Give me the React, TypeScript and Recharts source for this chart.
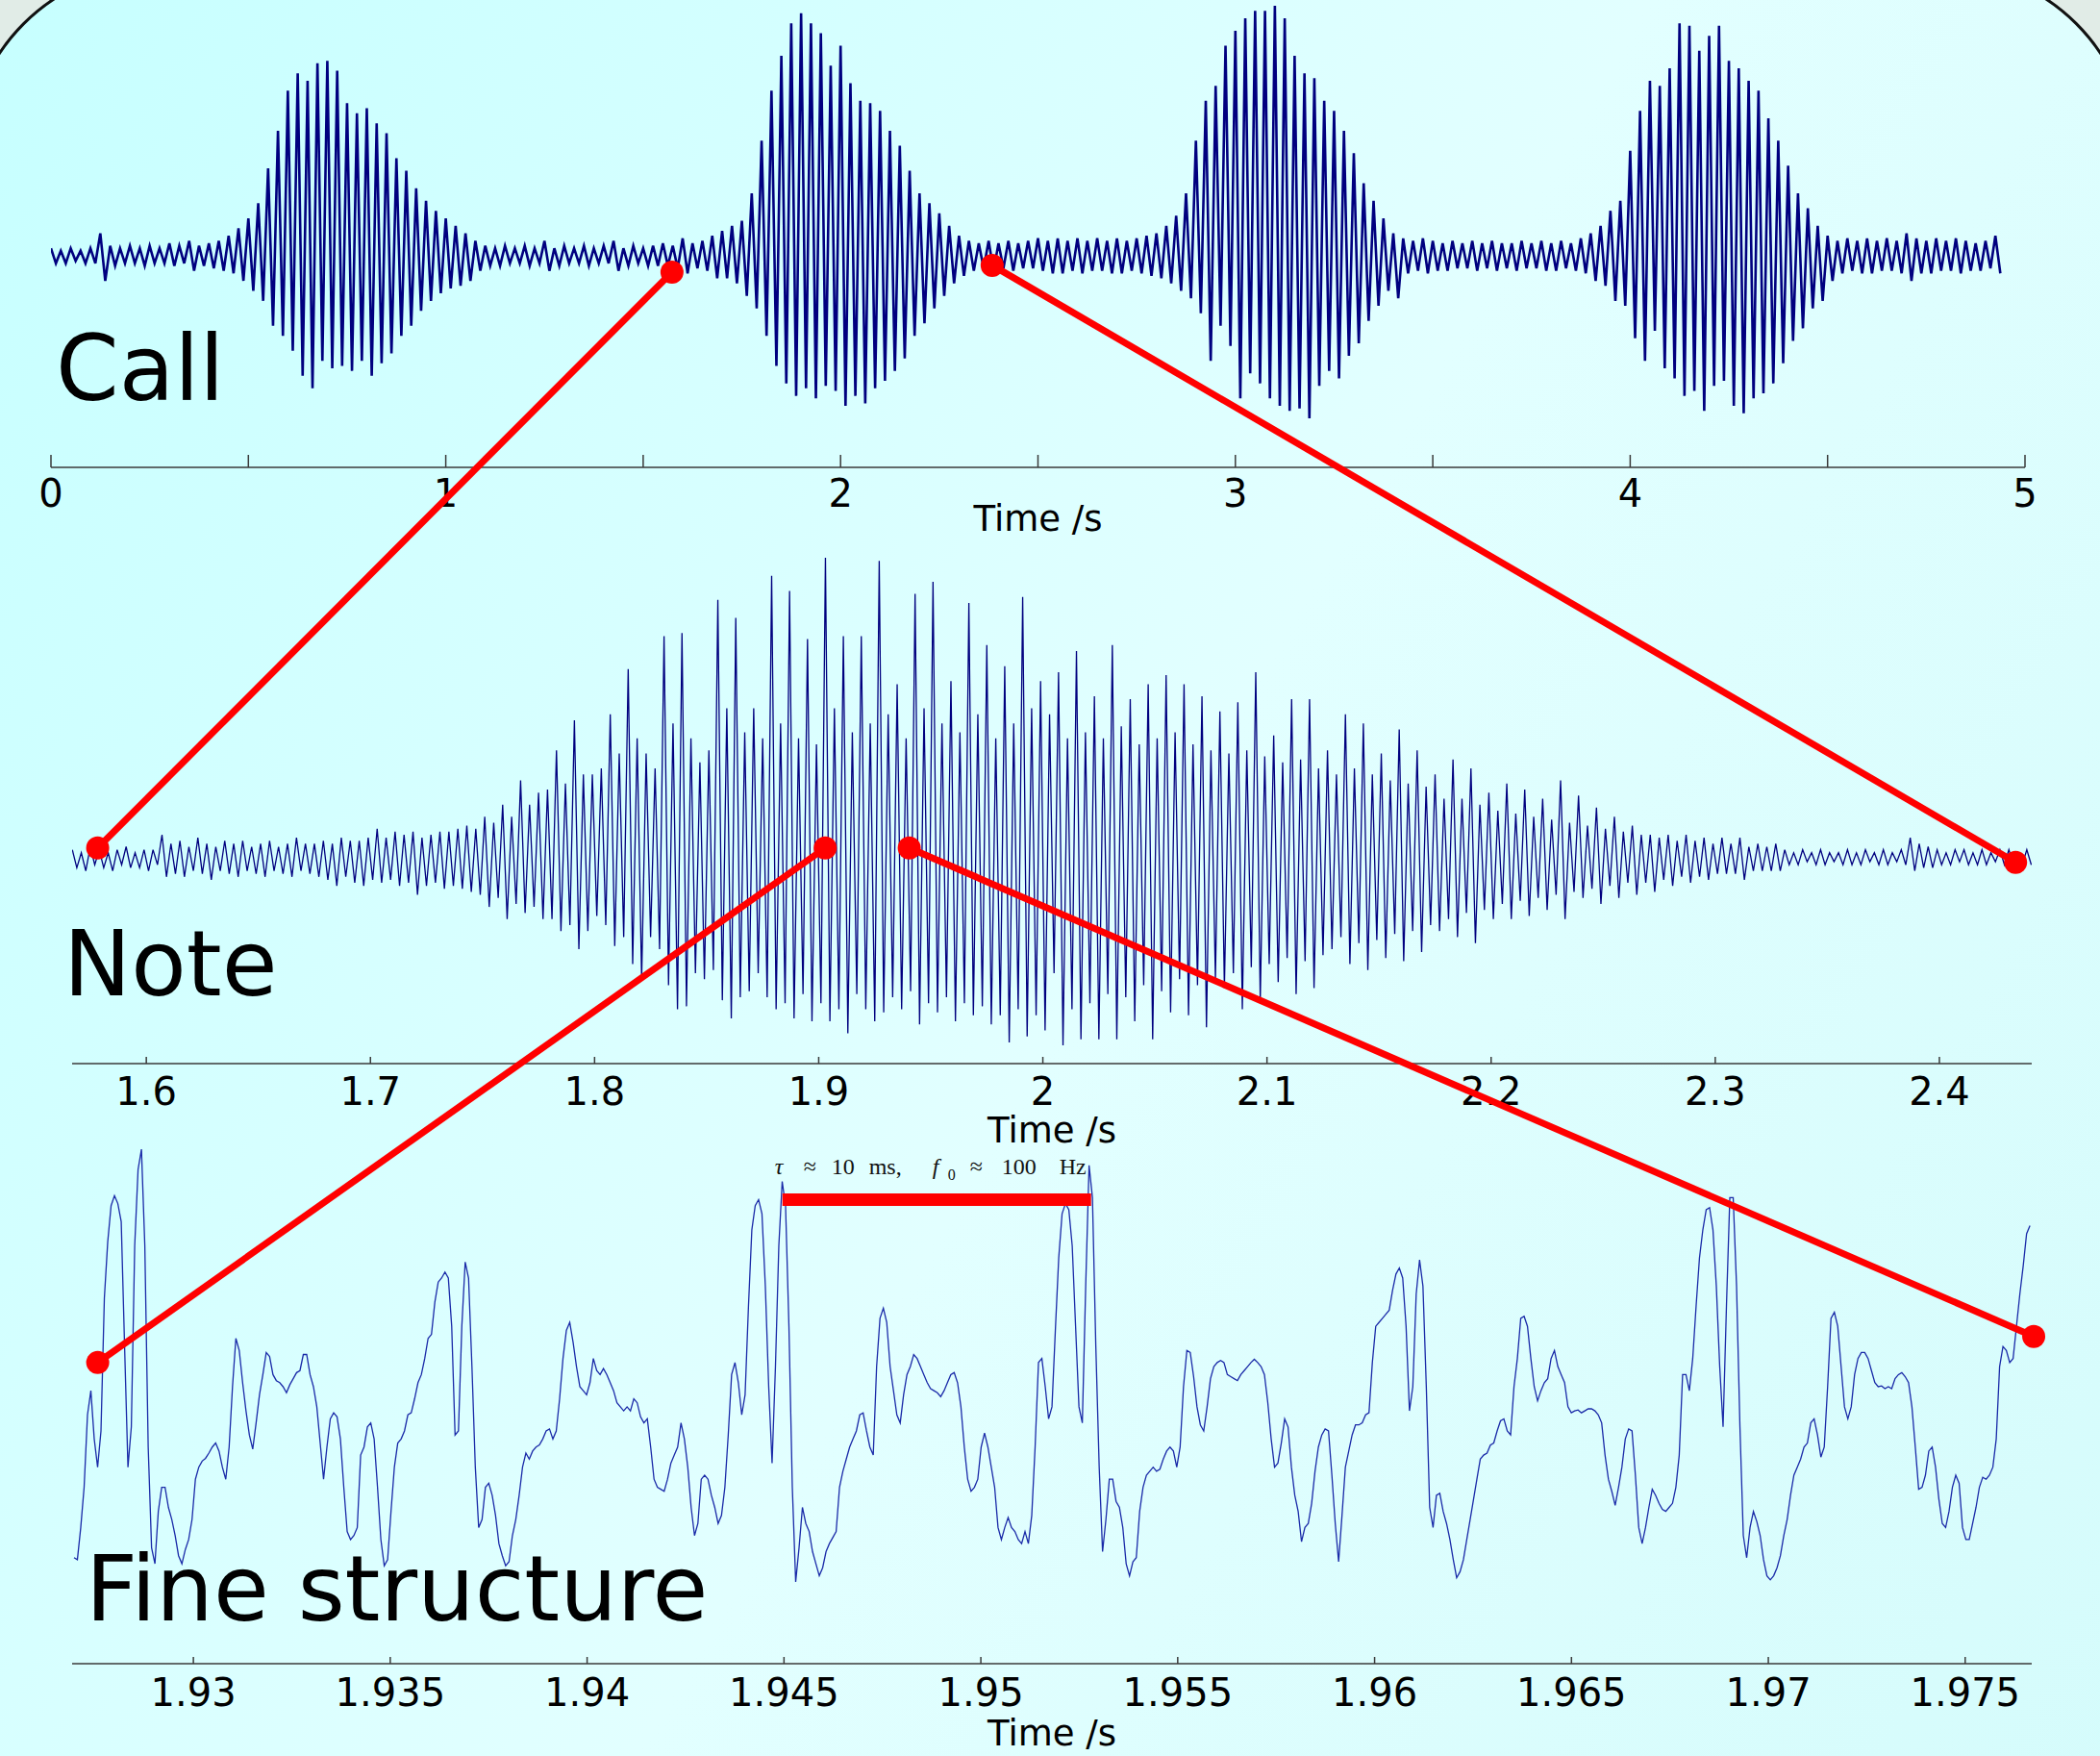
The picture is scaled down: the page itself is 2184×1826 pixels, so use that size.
import { LineChart, Line, XAxis, YAxis, ReferenceLine } from "recharts";

// ---- data ----

// call: min/max envelope per 25 ms bin, % of the largest peak
const CALL_T0 = 0;
const CALL_DT = 0.025;
const CALL_MAX = [
  3, 2, 3, 2, 3, 9, 4, 3, 4, 3, 4, 3, 5, 4, 6, 4, 5, 6, 8, 11,
  15, 21, 35, 50, 66, 73, 70, 77, 78, 74, 61, 57, 59, 53, 49, 39, 34, 27, 22, 18,
  15, 12, 9, 6, 4, 3, 4, 3, 4, 3, 6, 3, 4, 3, 4, 3, 4, 6, 3, 4,
  3, 4, 5, 4, 7, 5, 6, 8, 10, 12, 14, 25, 46, 66, 80, 93, 97, 93, 89, 76,
  84, 69, 62, 61, 58, 50, 44, 34, 25, 21, 17, 12, 8, 6, 5, 6, 5, 6, 5, 6,
  7, 6, 7, 6, 7, 6, 7, 6, 7, 6, 7, 8, 9, 12, 16, 25, 46, 62, 68, 84,
  90, 95, 98, 98, 100, 95, 80, 73, 71, 62, 58, 50, 41, 29, 22, 15, 9, 7, 6, 7,
  6, 5, 6, 5, 6, 5, 6, 5, 5, 6, 5, 6, 5, 6, 5, 7, 9, 12, 18, 22,
  42, 58, 70, 68, 75, 93, 92, 82, 88, 92, 78, 75, 70, 66, 55, 46, 36, 25, 19, 12,
  8, 6, 7, 6, 7, 6, 7, 6, 9, 7, 6, 7, 6, 7, 6, 5, 6, 8,
];
const CALL_MIN = [
  -3, -3, -2, -3, -3, -10, -4, -3, -3, -4, -3, -3, -4, -3, -6, -4, -5, -6, -7, -10,
  -14, -18, -28, -32, -38, -48, -53, -42, -45, -44, -46, -42, -48, -43, -39, -32, -28, -22, -18, -15,
  -13, -12, -10, -6, -4, -4, -3, -3, -4, -3, -6, -4, -3, -3, -4, -3, -3, -6, -4, -3,
  -4, -4, -4, -5, -7, -5, -6, -9, -9, -11, -16, -21, -32, -44, -51, -56, -53, -57, -52, -54,
  -60, -56, -59, -53, -50, -46, -41, -32, -27, -21, -16, -11, -8, -6, -5, -6, -5, -6, -5, -5,
  -6, -7, -7, -6, -7, -6, -6, -7, -7, -6, -7, -8, -9, -11, -14, -17, -23, -42, -28, -36,
  -57, -47, -51, -57, -60, -62, -61, -65, -52, -46, -49, -40, -35, -26, -20, -14, -17, -7, -6, -7,
  -6, -6, -5, -5, -6, -5, -6, -5, -6, -5, -5, -6, -6, -5, -6, -7, -10, -12, -18, -20,
  -33, -42, -30, -45, -49, -56, -54, -62, -52, -50, -60, -63, -57, -55, -51, -43, -34, -29, -21, -18,
  -10, -7, -6, -7, -7, -6, -6, -7, -10, -7, -7, -6, -6, -7, -6, -6, -5, -7,
];
const CALL_TICKS = [0, 0.5, 1, 1.5, 2, 2.5, 3, 3.5, 4, 4.5, 5];

// note: min/max envelope per 4 ms bin, % of the largest peak
const NOTE_T0 = 1.567;
const NOTE_DT = 0.004;
const NOTE_MAX = [
  3, 2, 4, 3, 2, 3, 4, 2, 3, 3, 8,
  5, 6, 4, 7, 5, 4, 6, 5, 6, 4, 5, 6, 4, 5, 7, 5,
  5, 6, 5, 7, 6, 6, 7, 10, 7, 9, 8, 9, 7, 8, 9,
  9, 10, 11, 10, 14, 12, 18, 14, 26, 18, 22, 23, 36, 25, 46, 28, 28, 30,
  48, 35, 63, 40, 35, 30, 74, 45, 75, 40, 32, 36, 86, 50, 80, 42, 50, 40, 94, 45,
  89, 40, 73, 38, 100, 50, 74, 42, 74, 45, 99, 48, 58, 40, 88, 50, 92, 45, 59, 42,
  85, 48, 71, 40, 64, 45, 87, 50, 59, 48, 62, 40, 69, 42, 54, 40, 71, 44, 53, 38,
  58, 40, 61, 42, 58, 38, 54, 36, 49, 35, 52, 36, 62, 34, 41, 32, 53, 33, 53, 30,
  36, 28, 48, 30, 45, 28, 35, 26, 43, 25, 36, 24, 28, 20, 33, 20, 30, 18, 22, 16,
  25, 15, 23, 14, 20, 13, 26, 12, 21, 11, 17, 10, 14, 9, 11, 8, 8, 7, 8, 6,
  8, 6, 7, 5, 7, 5, 7, 4, 5, 4, 5,
  3, 2, 3, 2, 3, 2, 2, 3, 2, 3, 2, 3, 2, 3, 7, 5, 4,
  3, 2, 3, 3, 2, 3, 2, 3, 3, 2, 3,
];
const NOTE_MIN = [
  -3, -4, -2, -3, -4, -2, -3, -3, -4, -2, -6,
  -5, -6, -4, -5, -7, -4, -5, -6, -4, -5, -6, -4, -5, -6, -4, -5,
  -6, -7, -9, -6, -8, -9, -7, -8, -7, -9, -8, -12, -9, -8, -10,
  -9, -10, -11, -12, -16, -13, -20, -15, -18, -16, -20, -20, -24, -22, -30, -24, -19, -22,
  -29, -26, -35, -40, -26, -30, -42, -50, -49, -38, -40, -37, -47, -53, -46, -44, -38, -46, -50, -48,
  -53, -45, -54, -48, -54, -50, -58, -45, -50, -54, -51, -46, -50, -44, -55, -48, -51, -46, -54, -48,
  -52, -49, -55, -52, -61, -50, -59, -52, -57, -38, -62, -50, -60, -48, -60, -45, -60, -46, -54, -42,
  -60, -44, -51, -40, -52, -42, -56, -40, -43, -38, -50, -36, -47, -35, -41, -33, -45, -34, -43, -32,
  -30, -26, -35, -28, -37, -27, -33, -25, -34, -24, -31, -22, -24, -20, -26, -18, -28, -17, -20, -15,
  -20, -14, -19, -13, -17, -12, -20, -11, -13, -10, -15, -9, -13, -8, -12, -8, -11, -7, -9, -6,
  -8, -6, -7, -5, -5, -5, -7, -4, -4, -4, -4,
  -2, -2, -1, -2, -2, -1, -2, -2, -2, -1, -2, -2, -1, -2, -4, -3, -3,
  -2, -2, -1, -2, -2, -2, -1, -2, -2, -2, -2,
];
const NOTE_TICKS = [1.6, 1.7, 1.8, 1.9, 2, 2.1, 2.2, 2.3, 2.4];

// fine structure: the trace sampled every 85.65 us, arbitrary amplitude units
const FINE_T0 = 1.926968;
const FINE_DT = 0.00008565;
const FINE_A = [
  -47.5, -48, -40, -30, -12, -6, -18, -25, -16, 17,
  31, 40, 42.5, 40.5, 36, 5, -25, -15, 30, 49,
  54, 30, -20, -45, -49, -36, -30, -30, -35, -38,
  -42, -47, -49, -45.5, -43, -38, -28, -25, -23.5, -22.8,
  -21.5, -20, -19, -21, -25, -28, -20, -5, 7, 4,
  -4, -11, -17, -20.5, -14, -7, -2, 3.5, 2.5, -2,
  -3.5, -4, -5, -6.5, -4.5, -3, -1.5, -1, 3, 3,
  -2, -5, -10, -19, -28, -20, -13, -11.5, -12.5, -18,
  -30, -41, -43, -42, -40, -22, -20, -15, -14, -18,
  -30, -43, -49.5, -48, -36, -25, -19, -18, -16, -12,
  -11.5, -8, -4, -2, 2, 7, 8, 16, 21, 22,
  23.5, 22, 10, -17, -16, 10, 26, 22, 0, -25,
  -40, -38, -30, -29, -32, -37, -44, -47, -49.5, -48.5,
  -42, -38, -32, -25, -21.5, -23, -21, -20, -19.5, -18,
  -16, -15.5, -18, -16, -8, 2, 9, 11, 6, 0,
  -5, -6, -7, -4, 2, -1, -2, -0.5, -2, -4,
  -6, -9, -10, -11, -10, -11, -8, -9, -12.5, -14,
  -13, -20, -28, -30, -30.5, -31, -28, -24, -22, -20,
  -14, -18, -25, -35, -42, -39, -28, -27, -28, -32,
  -35, -39, -37, -30, -17, -2, 1, -4, -12, -7,
  15, 34, 40, 41.5, 38, 20, -5, -24, 0, 30,
  46, 40, 10, -30, -53.5, -45, -35, -39, -41, -46,
  -49, -52, -50, -46, -44, -42.5, -41, -30, -26, -23,
  -20, -18, -16, -12, -11.5, -16, -20, -22, 0, 12,
  14.5, 11, 0, -6, -12, -14, -7, -2, 0, 3,
  2, 0, -2, -4, -5.5, -6, -6.5, -7.5, -6, -4,
  -2, -1.5, -4, -10, -20, -28, -31, -30, -28, -20,
  -16.5, -20, -25, -30, -40, -43, -40, -37.5, -40, -41,
  -43, -44, -41, -44, -37, -20, 1, 2,
  -5, -13, -10, 9, 27, 38, 40.5, 39, 30, 10,
  -10, -14, 20, 50, 42, 5, -25, -46, -38, -28,
  -28, -33.5, -35, -40, -49, -52, -48.5, -47.5, -36, -30,
  -27, -26, -25, -26, -25.5, -23, -21, -20, -21, -25,
  -20, -5, 4, 3.5, -2.5, -10, -14.5, -16, -10, -3,
  0, 1, 1.5, 1, -2, -2.5, -3, -3.5, -2, -1,
  0, 1, 1.8, 1, 0, -2, -9, -18, -25, -24,
  -19, -13, -15, -25, -32, -36, -43.5, -40, -39, -34,
  -26, -20, -17, -15.5, -16, -27, -39, -48.5, -37, -25,
  -21, -17, -14.5, -14.5, -14, -12, -11.5, 1, 10, 11,
  12, 13, 14, 19, 23, 24.5, 22, 10, -11, -5,
  18, 26.5, 20, -5, -35, -40, -32, -31.5, -36, -39,
  -43, -48, -52.5, -51, -48, -43, -38, -33, -28, -23,
  -22, -21.5, -19.5, -19, -16, -13.5, -13, -16, -17, -5,
  2, 12, 12.5, 10, 2, -5, -8.5, -6, -4, -3,
  2, 4, 0, -2, -4, -10, -11.5, -11, -10.8, -11.5,
  -11, -10.5, -10.5, -11, -12, -14, -22, -28, -31, -34.5,
  -30, -25, -18, -15.5, -16, -27, -40, -44, -40, -35,
  -30.5, -32, -34, -35.5, -36, -35, -34, -30, -22, -2,
  -2, -6, 2, 15, 27, 34, 39, 39.5, 34, 20,
  0, -15, 15, 42, 42, 20, -15, -42, -47.5, -40,
  -36, -38.5, -42, -48, -52, -53, -52, -50, -47, -42,
  -38, -32, -27, -25, -23, -20, -19, -14, -13, -17,
  -22.5, -20, -5, 12, 13.5, 10, 0, -10, -13, -10,
  -2, 2, 3.5, 3.5, 2, -1, -4, -5, -4.8, -5.5,
  -5, -5.5, -3, -2, -1.5, -2.5, -4, -10, -20, -30.5,
  -30, -27, -21, -20, -25, -33, -39, -40, -36, -30,
  -27, -29, -40, -43, -43, -39, -35, -30, -27.5, -28,
  -27, -25, -18, 0, 5, 4, 1, 2, 10, 18,
  25, 33, 35,
];
const FINE_TICKS = [1.93, 1.935, 1.94, 1.945, 1.95, 1.955, 1.96, 1.965, 1.97, 1.975];

// one glottal period marked on the fine structure
const PERIOD_T = [1.94496, 1.9528];
const PERIOD_A = 41.5;

// zoom markers: [time, amplitude] in each panel's units
const CALL_MARKS = [[1.573, -6.5], [2.384, -3.8]];
const NOTE_OUTER_MARKS = [[1.5783, 3.6], [2.434, -1.2]];
const NOTE_INNER_MARKS = [[1.9029, 3.6], [1.9404, 3.6]];
const FINE_MARKS = [[1.92757, 1], [1.97674, 7.5]];

// ---- layout ----

const W = 2184;
const H = 1826;
const FONT = "DejaVu Sans, Verdana, sans-serif";
const SERIF = "Liberation Serif, Times New Roman, serif";
const AXIS = "#3a3a3a";
const RED = "#ff0000";
const NAVY = "#00007f";

type Frame = {
  left: number;
  right: number;
  top: number;
  bottom: number;
  x: [number, number];
  y: [number, number];
};

const CALL_FRAME: Frame = { left: 53, right: 2106, top: 0, bottom: 486, x: [0, 5], y: [-84.6, 102.3] };
const NOTE_FRAME: Frame = { left: 75, right: 2113, top: 560, bottom: 1106, x: [1.5669, 2.4412], y: [-68.05, 106.4] };
const FINE_FRAME: Frame = { left: 75, right: 2113, top: 1170, bottom: 1730, x: [1.92692, 1.97669], y: [-73.84, 60] };

type Pt = { t: number; v: number };

// each min/max bin becomes an up stroke then a down stroke
function minMaxTrace(t0: number, dt: number, hi: number[], lo: number[]) {
  const out: Pt[] = [];
  hi.forEach((v, i) => {
    out.push({ t: t0 + i * dt, v });
    out.push({ t: t0 + (i + 0.5) * dt, v: lo[i] });
  });
  return out;
}

const callData = minMaxTrace(CALL_T0, CALL_DT, CALL_MAX, CALL_MIN);
const noteData = minMaxTrace(NOTE_T0, NOTE_DT, NOTE_MAX, NOTE_MIN);
const fineData = FINE_A.map((v, i) => ({ t: FINE_T0 + i * FINE_DT, v }));

function toPx(f: Frame, t: number, a: number): [number, number] {
  return [
    f.left + ((t - f.x[0]) / (f.x[1] - f.x[0])) * (f.right - f.left),
    f.top + ((f.y[1] - a) / (f.y[1] - f.y[0])) * (f.bottom - f.top),
  ];
}

const fmt = (v: number) => String(+v.toFixed(3));

const makeTick =
  (len: number, dy: number, labelled: (v: number) => boolean) => (props: any) => {
    const { x, y, payload } = props;
    const v = payload.value as number;
    return (
      <g>
        <line x1={x} x2={x} y1={y} y2={y - len} stroke={AXIS} strokeWidth={1.5} />
        {labelled(v) && (
          <text x={x} y={y + dy} textAnchor="middle" fontSize={40} fontFamily={FONT} fill="#000">
            {fmt(v)}
          </text>
        )}
      </g>
    );
  };

function Panel(props: {
  frame: Frame;
  data: Pt[];
  ticks: number[];
  tickLen: number;
  labelDy: number;
  labelled: (v: number) => boolean;
  axisHeight: number;
  titleOffset: number;
  stroke: string;
  strokeWidth: number;
  children?: any;
}) {
  const f = props.frame;
  return (
    <div style={{ position: "absolute", left: 0, top: f.top }}>
      <LineChart
        width={W}
        height={f.bottom - f.top + props.axisHeight}
        margin={{ top: 0, right: W - f.right, bottom: 0, left: f.left }}
      >
        <XAxis
          type="number"
          dataKey="t"
          domain={f.x}
          allowDataOverflow
          ticks={props.ticks}
          interval={0}
          height={props.axisHeight}
          tickSize={0}
          tickMargin={0}
          tickLine={false}
          axisLine={{ stroke: AXIS, strokeWidth: 1.5 }}
          tick={makeTick(props.tickLen, props.labelDy, props.labelled)}
          label={{
            value: "Time /s",
            position: "insideBottom",
            offset: props.titleOffset,
            fill: "#000",
            fontSize: 37,
            fontFamily: FONT,
          }}
        />
        <YAxis hide type="number" domain={f.y} allowDataOverflow />
        <Line
          data={props.data}
          dataKey="v"
          type="linear"
          dot={false}
          activeDot={false}
          stroke={props.stroke}
          strokeWidth={props.strokeWidth}
          isAnimationActive={false}
        />
        {props.children}
      </LineChart>
    </div>
  );
}

function Link({ a, b }: { a: [number, number]; b: [number, number] }) {
  return (
    <g>
      <line x1={a[0]} y1={a[1]} x2={b[0]} y2={b[1]} stroke={RED} strokeWidth={7} />
      <circle cx={a[0]} cy={a[1]} r={12} fill={RED} />
      <circle cx={b[0]} cy={b[1]} r={12} fill={RED} />
    </g>
  );
}

export default function App() {
  const links: [[number, number], [number, number]][] = [
    [toPx(CALL_FRAME, CALL_MARKS[0][0], CALL_MARKS[0][1]), toPx(NOTE_FRAME, NOTE_OUTER_MARKS[0][0], NOTE_OUTER_MARKS[0][1])],
    [toPx(CALL_FRAME, CALL_MARKS[1][0], CALL_MARKS[1][1]), toPx(NOTE_FRAME, NOTE_OUTER_MARKS[1][0], NOTE_OUTER_MARKS[1][1])],
    [toPx(NOTE_FRAME, NOTE_INNER_MARKS[0][0], NOTE_INNER_MARKS[0][1]), toPx(FINE_FRAME, FINE_MARKS[0][0], FINE_MARKS[0][1])],
    [toPx(NOTE_FRAME, NOTE_INNER_MARKS[1][0], NOTE_INNER_MARKS[1][1]), toPx(FINE_FRAME, FINE_MARKS[1][0], FINE_MARKS[1][1])],
  ];
  const [bx, by] = toPx(FINE_FRAME, PERIOD_T[0], PERIOD_A);
  const ty = by - 26;

  return (
    <div style={{ position: "relative", width: W, height: H, overflow: "hidden", background: "#e1ece7" }}>
      <style>{"body{margin:0}"}</style>
      <div
        style={{
          position: "absolute",
          left: -35,
          top: -35,
          width: W + 70,
          height: H + 400,
          borderRadius: 200,
          border: "3px solid #111",
          boxSizing: "border-box",
          background: "linear-gradient(120deg, #c6ffff 0%, #e2ffff 50%, #d3fbfb 100%)",
        }}
      />
      <svg width={W} height={H} style={{ position: "absolute", left: 0, top: 0 }}>
        <g fontFamily={FONT} fontSize={94} fill="#000">
          <text x={58} y={416}>Call</text>
          <text x={66} y={1035}>Note</text>
          <text x={89} y={1685}>Fine structure</text>
        </g>
      </svg>

      <Panel
        frame={CALL_FRAME}
        data={callData}
        ticks={CALL_TICKS}
        tickLen={13}
        labelDy={41}
        labelled={(v) => Number.isInteger(v)}
        axisHeight={80}
        titleOffset={14}
        stroke={NAVY}
        strokeWidth={2.6}
      />
      <Panel
        frame={NOTE_FRAME}
        data={noteData}
        ticks={NOTE_TICKS}
        tickLen={7}
        labelDy={43}
        labelled={() => true}
        axisHeight={90}
        titleOffset={8}
        stroke={NAVY}
        strokeWidth={1.3}
      />
      <Panel
        frame={FINE_FRAME}
        data={fineData}
        ticks={FINE_TICKS}
        tickLen={7}
        labelDy={44}
        labelled={() => true}
        axisHeight={96}
        titleOffset={11}
        stroke="#1a2aa8"
        strokeWidth={1.3}
      >
        <ReferenceLine
          segment={[
            { x: PERIOD_T[0], y: PERIOD_A },
            { x: PERIOD_T[1], y: PERIOD_A },
          ]}
          stroke={RED}
          strokeWidth={13}
          ifOverflow="visible"
        />
      </Panel>

      <svg width={W} height={H} style={{ position: "absolute", left: 0, top: 0, pointerEvents: "none" }}>
        {links.map(([a, b], i) => (
          <Link key={i} a={a} b={b} />
        ))}
        <g fontFamily={SERIF} fontSize={24} fill="#111">
          <text x={bx - 8} y={ty} fontStyle="italic">τ</text>
          <text x={bx + 22} y={ty}>≈</text>
          <text x={bx + 51} y={ty}>10</text>
          <text x={bx + 90} y={ty}>ms,</text>
          <text x={bx + 156} y={ty} fontStyle="italic">f</text>
          <text x={bx + 172} y={ty + 6} fontSize={16}>0</text>
          <text x={bx + 195} y={ty}>≈</text>
          <text x={bx + 228} y={ty}>100</text>
          <text x={bx + 288} y={ty}>Hz</text>
        </g>
      </svg>
    </div>
  );
}
